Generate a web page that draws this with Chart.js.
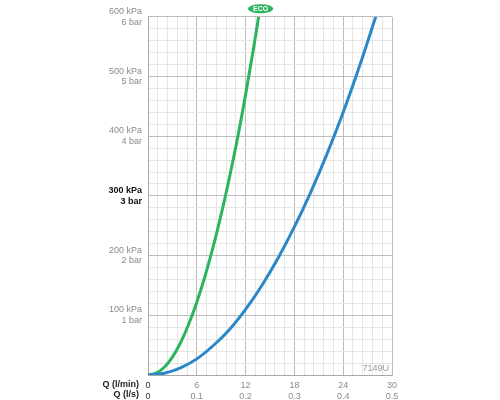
<!DOCTYPE html>
<html>
<head>
<meta charset="utf-8">
<script src="https://cdn.jsdelivr.net/npm/chart.js@4"></script>
<style>
  html, body { margin: 0; padding: 0; background: #fff; }
  #wrap { width: 500px; height: 400px; }
</style>
</head>
<body>
<div id="wrap"><canvas id="flowChart"></canvas></div>
<script>
// flow (l/min) vs pressure (kPa)
const ecoFlow = [0, 1, 2, 3, 4, 5, 6, 7, 8, 9, 10, 11, 12, 13, 13.6];
const ecoPressure = [0, 3, 13, 30, 54, 85, 122, 165, 214, 269, 330, 396, 470, 549, 600];

const stdFlow = [0, 2, 4, 6, 8, 10, 12, 14, 16, 18, 20, 22, 24, 26, 28];
const stdPressure = [0, 3, 12, 27, 49, 76, 110, 150, 196, 248, 306, 370, 440, 517, 600];

// tick labels
const kpaTicks = [100, 200, 300, 400, 500, 600];
const barLabels = ['1 bar', '2 bar', '3 bar', '4 bar', '5 bar', '6 bar'];
const lminTicks = [0, 6, 12, 18, 24, 30];
const lsLabels = ['0', '0.1', '0.2', '0.3', '0.4', '0.5'];

const FONT = 'Liberation Sans, Arial, Helvetica, sans-serif';
const GREEN = '#2bb35e';
const BLUE = '#2b87c8';

function toPoints(xs, ys) {
  return xs.map((x, i) => ({ x: x, y: ys[i] }));
}
function isMajor(v, step) {
  return Math.abs(v / step - Math.round(v / step)) < 1e-6;
}

// extra texts: axis captions, drawing code, ECO badge
const extraText = {
  id: 'extraText',
  afterDraw(chart) {
    const ctx = chart.ctx;
    const area = chart.chartArea;
    ctx.save();
    ctx.textBaseline = 'middle';
    ctx.textAlign = 'right';
    ctx.fillStyle = '#222';
    ctx.font = 'bold 9px ' + FONT;
    ctx.fillText('Q (l/min)', 139, 385);
    ctx.fillText('Q (l/s)', 139, 395);

    ctx.fillStyle = '#9a9a9a';
    ctx.font = '9px ' + FONT;
    ctx.fillText('7149U', area.right - 3, area.bottom - 6);

    // ECO badge above the end of the green curve
    const meta = chart.getDatasetMeta(1);
    const last = meta.data[meta.data.length - 1];
    const cx = last.x + 2, cy = area.top - 8;
    ctx.fillStyle = GREEN;
    ctx.beginPath();
    ctx.ellipse(cx, cy, 12.5, 4.5, 0, 0, Math.PI * 2);
    ctx.fill();
    ctx.fillStyle = '#fff';
    ctx.textAlign = 'center';
    ctx.font = 'bold 7px ' + FONT;
    ctx.fillText('ECO', cx, cy + 0.5);
    ctx.restore();
  }
};

const ctx = document.getElementById('flowChart').getContext('2d');

new Chart(ctx, {
  type: 'line',
  data: {
    datasets: [
      {
        label: 'Standard',
        data: toPoints(stdFlow, stdPressure),
        borderColor: BLUE,
        borderWidth: 3,
        pointRadius: 0,
        cubicInterpolationMode: 'monotone',
        fill: false
      },
      {
        label: 'ECO',
        data: toPoints(ecoFlow, ecoPressure),
        borderColor: GREEN,
        borderWidth: 3,
        pointRadius: 0,
        cubicInterpolationMode: 'monotone',
        fill: false
      }
    ]
  },
  options: {
    responsive: true,
    maintainAspectRatio: false,
    animation: false,
    layout: { padding: { top: 14, right: 108, bottom: 0, left: 0 } },
    plugins: {
      legend: { display: false },
      tooltip: { enabled: false }
    },
    scales: {
      x: {
        type: 'linear',
        min: 0,
        max: 30,
        afterFit: s => { s.height = 25; },
        afterBuildTicks: s => {
          s.ticks = [];
          for (let i = 0; i <= 25; i++) s.ticks.push({ value: Math.round(i * 12) / 10 });
        },
        border: { color: '#a8a8a8', width: 1 },
        grid: {
          drawTicks: false,
          color: c => isMajor(c.tick.value, 6) ? '#bdbdbd' : '#e6e6e6',
          lineWidth: 1
        },
        ticks: {
          autoSkip: false,
          maxRotation: 0,
          padding: 5,
          font: { family: FONT, size: 9 },
          color: c => c.tick.value === 0 ? '#333' : '#8a8a8a',
          callback: v => {
            const i = lminTicks.indexOf(Math.round(v * 10) / 10);
            return i < 0 ? '' : [String(lminTicks[i]), lsLabels[i]];
          }
        }
      },
      y: {
        type: 'linear',
        min: 0,
        max: 600,
        afterFit: s => { s.width = 148; },
        afterBuildTicks: s => {
          s.ticks = [];
          for (let v = 0; v <= 600; v += 20) s.ticks.push({ value: v });
        },
        border: { color: '#a8a8a8', width: 1 },
        grid: {
          drawTicks: false,
          color: c => isMajor(c.tick.value, 100) ? '#bdbdbd' : '#e6e6e6',
          lineWidth: 1
        },
        ticks: {
          autoSkip: false,
          padding: 6,
          font: c => ({ family: FONT, size: 9, weight: c.tick && c.tick.value === 300 ? 'bold' : 'normal', lineHeight: 1.2 }),
          color: c => c.tick && c.tick.value === 300 ? '#111' : '#8a8a8a',
          callback: v => {
            const i = kpaTicks.indexOf(v);
            return i < 0 ? '' : [kpaTicks[i] + ' kPa', barLabels[i]];
          }
        }
      }
    }
  },
  plugins: [extraText]
});
</script>
</body>
</html>
